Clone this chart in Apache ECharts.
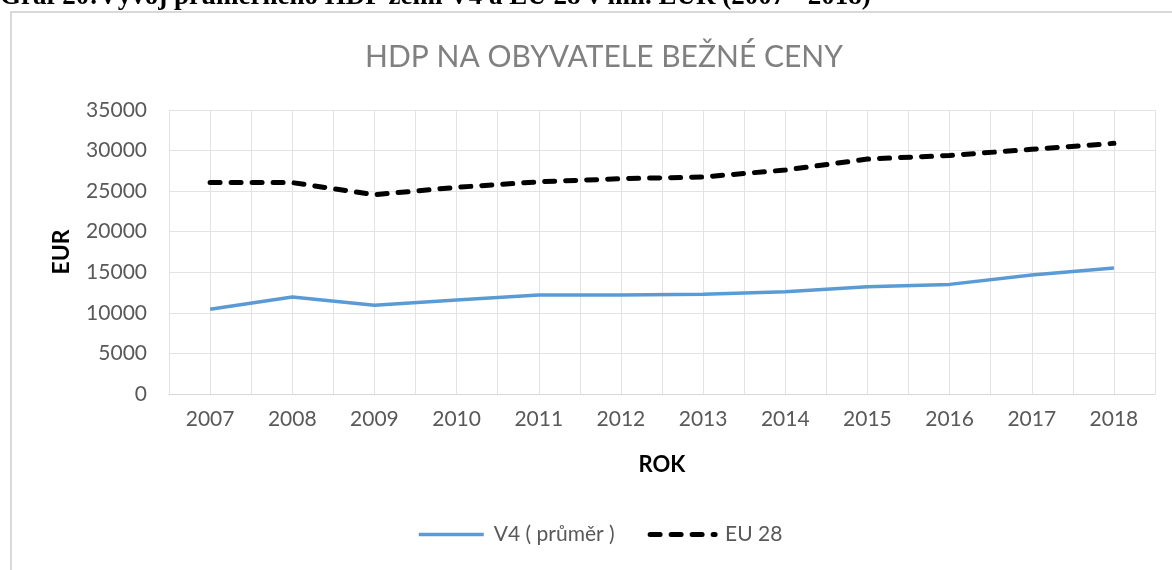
<!DOCTYPE html>
<html>
<head>
<meta charset="utf-8">
<script src="https://cdn.jsdelivr.net/npm/echarts@6/dist/echarts.min.js"></script>
<style>
html,body{margin:0;padding:0;background:#fff;}
#main{width:1172px;height:570px;}
</style>
</head>
<body>
<div id="main"></div>
<script>
// roky a hodnoty HDP na obyvatele (EUR)
var years = ['2007','2008','2009','2010','2011','2012','2013','2014','2015','2016','2017','2018'];
var v4 = [10450, 11950, 10930, 11580, 12200, 12200, 12280, 12600, 13220, 13510, 14660, 15520];
var eu28 = [26050, 26050, 24560, 25470, 26150, 26530, 26750, 27600, 28950, 29400, 30150, 30890];
var seriesNames = ['V4 ( průměr )', 'EU 28'];

var chart = echarts.init(document.getElementById('main'));
var gridColor = '#e3e3e3';
var labelColor = '#595959';
var v4Line = {color: '#5b9bd5', width: 3.5};
var euLine = {color: '#000', width: 5, type: [10, 11], cap: 'round'};

var option = {
  animation: false,
  title: {
    text: 'HDP NA OBYVATELE BEŽNÉ CENY',
    left: 599,
    textAlign: 'center',
    top: 37,
    textStyle: {fontFamily: 'Lato', fontSize: 30, fontWeight: 'normal', color: '#808080'}
  },
  graphic: [
    {
      type: 'rect',
      shape: {x: 11, y: 12, width: 1200, height: 600},
      style: {fill: 'none', stroke: '#d9d9d9', lineWidth: 2}
    },
    {
      type: 'text',
      left: 0,
      top: -16,
      style: {
        text: 'Graf 20:Vývoj průměrného HDP zemí V4 a EU 28 v mil. EUR (2007 - 2018)',
        font: 'bold 27px "Liberation Serif"',
        fill: '#000'
      }
    }
  ],
  legend: {
    data: [
      {name: seriesNames[0], lineStyle: v4Line},
      {name: seriesNames[1], lineStyle: euLine}
    ],
    bottom: 20,
    left: 412,
    itemWidth: 65,
    itemHeight: 14,
    itemGap: 33,
    itemStyle: {opacity: 0},
    textStyle: {fontFamily: 'Lato', fontSize: 21, color: labelColor, padding: [0, 0, 0, 5]}
  },
  grid: {left: 169, right: 17, top: 110, bottom: 176},
  xAxis: [
    {
      type: 'category',
      data: years,
      boundaryGap: true,
      name: 'ROK',
      nameLocation: 'middle',
      nameGap: 60,
      nameTextStyle: {fontFamily: 'Lato', fontSize: 22, fontWeight: 'bold', color: '#000'},
      axisLine: {lineStyle: {color: '#d9d9d9'}},
      axisTick: {show: false},
      axisLabel: {fontFamily: 'Lato', fontSize: 21, color: labelColor, margin: 15},
      splitLine: {show: false}
    },
    {
      type: 'value',
      min: 0,
      max: 24,
      interval: 1,
      position: 'top',
      axisLine: {show: false},
      axisTick: {show: false},
      axisLabel: {show: false},
      splitLine: {show: true, lineStyle: {color: gridColor}}
    }
  ],
  yAxis: {
    type: 'value',
    min: 0,
    max: 35000,
    interval: 5000,
    name: 'EUR',
    nameLocation: 'middle',
    nameRotate: 90,
    nameGap: 96,
    nameTextStyle: {fontFamily: 'Lato', fontSize: 23, fontWeight: 'bold', color: '#000'},
    axisLine: {show: false},
    axisTick: {show: false},
    axisLabel: {
      fontFamily: 'Lato', fontSize: 21, color: labelColor, margin: 22,
      formatter: function (v) { return String(v); }
    },
    splitLine: {lineStyle: {color: gridColor}}
  },
  series: [
    {
      name: seriesNames[0],
      type: 'line',
      data: v4,
      symbol: 'none',
      lineStyle: v4Line,
      itemStyle: {color: '#5b9bd5'}
    },
    {
      name: seriesNames[1],
      type: 'line',
      data: eu28,
      symbol: 'none',
      lineStyle: euLine,
      itemStyle: {color: '#000'}
    }
  ]
};
chart.setOption(option);
</script>
</body>
</html>
